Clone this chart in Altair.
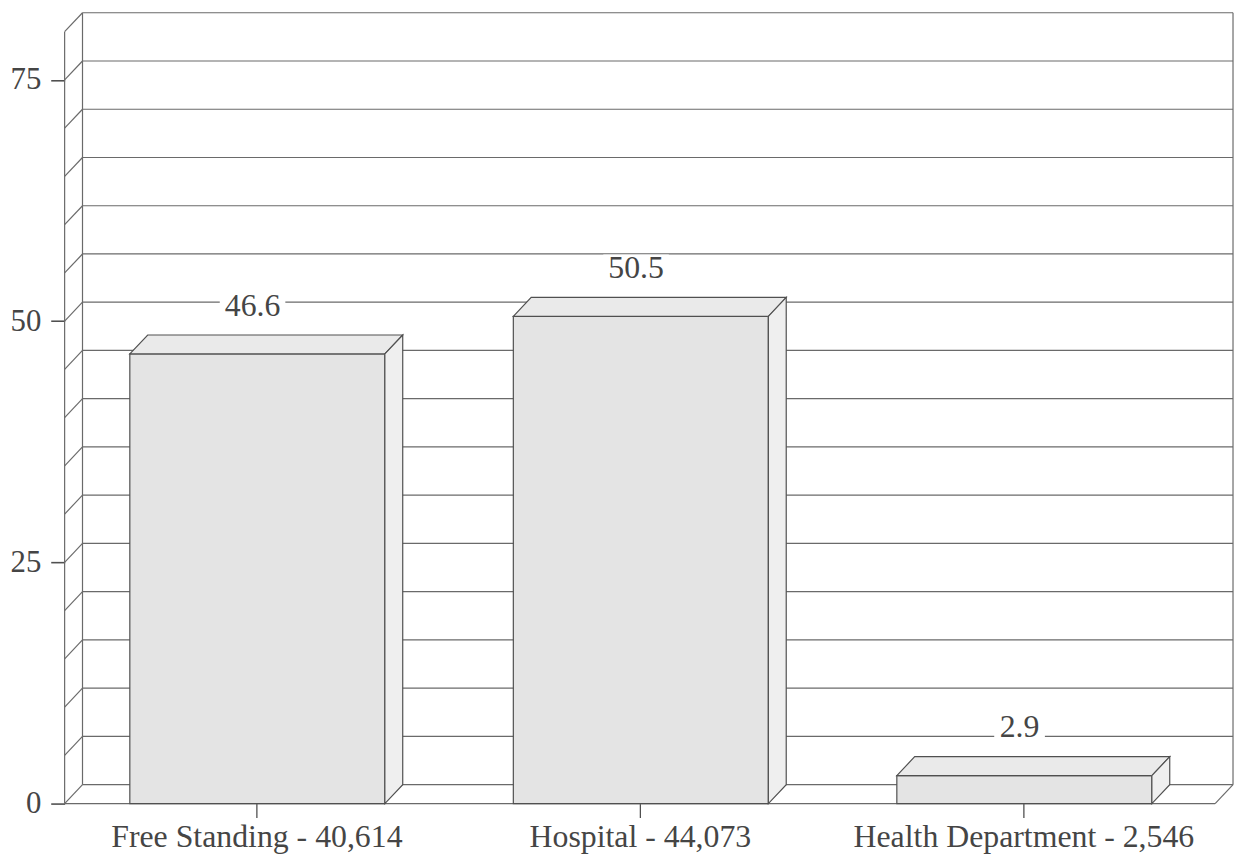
import json
import pandas as pd
import altair as alt

# ---- data ----
categories = ["Free Standing - 40,614", "Hospital - 44,073", "Health Department - 2,546"]
values = [46.6, 50.5, 2.9]
value_labels = ["46.6", "50.5", "2.9"]
grid_values = list(range(0, 85, 5))
y_tick_values = [0, 25, 50, 75]

# ---- geometry / style constants ----
Y_MAX = 80
N = len(categories)
DX = 0.0466      # 3D depth in x units
DY = 1.96        # 3D depth in y units
BAR_START = 0.17
BAR_WIDTH = 0.665
LABEL_SHIFT = 0.49
LABEL_RISE = 5.0
W, H = 1176, 796
PX_X = W / (N + DX)
PX_Y = H / (Y_MAX + DY)

FONT = "Liberation Serif"
LINE = "#6a6a6a"
EDGE = "#505050"
TEXT = "#454545"

# ---- frame lines (walls, floor, gridlines) ----
lines = []
for v in grid_values:
    lines.append(dict(x=DX, x2=N + DX, y=v + DY, y2=v + DY))   # back wall gridline
    lines.append(dict(x=0, x2=DX, y=v, y2=v + DY))              # left wall slant
lines.append(dict(x=0, x2=0, y=0, y2=Y_MAX))                   # left wall front edge
lines.append(dict(x=DX, x2=DX, y=DY, y2=Y_MAX + DY))           # left wall back edge
lines.append(dict(x=N + DX, x2=N + DX, y=DY, y2=Y_MAX + DY))   # right back edge
lines.append(dict(x=0, x2=N, y=0, y2=0))                       # floor front edge
lines.append(dict(x=N, x2=N + DX, y=0, y2=DY))                 # floor right edge
lines_df = pd.DataFrame(lines)

# ---- bars ----
front, top, side, labels, label_bg = [], [], [], [], []
for i, (c, v, lab) in enumerate(zip(categories, values, value_labels)):
    x0 = i + BAR_START
    x1 = x0 + BAR_WIDTH
    front.append(dict(bar=c, x=x0, x2=x1, y=0, y2=v))
    for xx, yy, yy2 in [(x0, v, v), (x0 + DX, v + DY, v), (x1, v + DY, v), (x1 + DX, v + DY, v + DY)]:
        top.append(dict(bar=c, x=xx, y=yy, y2=yy2))
    for xx, yy, yy2 in [(x1, v, 0), (x1 + DX, v + DY, DY)]:
        side.append(dict(bar=c, x=xx, y=yy, y2=yy2))
    lx = i + LABEL_SHIFT
    ly = v + LABEL_RISE
    labels.append(dict(x=lx, y=ly, label=lab))
    half = (len(lab) * 15 + 6) / 2 / PX_X
    label_bg.append(dict(x=lx - half, x2=lx + half, y=ly - 1.4, y2=ly + 1.4))

front_df = pd.DataFrame(front)
top_df = pd.DataFrame(top)
side_df = pd.DataFrame(side)
labels_df = pd.DataFrame(labels)
label_bg_df = pd.DataFrame(label_bg)

# ---- scales and axes ----
xs = alt.Scale(domain=[0, N + DX], nice=False, zero=False)
ys = alt.Scale(domain=[0, Y_MAX + DY], nice=False, zero=False)

x_axis = alt.Axis(
    values=[i + 0.5 for i in range(N)],
    labelExpr=f"{json.dumps(categories)}[floor(datum.value)]",
    domain=False, grid=False, title=None,
    tickSize=14, tickColor=EDGE, tickWidth=1.3,
    labelFont=FONT, labelFontSize=32, labelColor=TEXT, labelPadding=4,
    labelLimit=0, labelOverlap=False,
)
y_axis = alt.Axis(
    values=y_tick_values, format="d",
    domain=False, grid=False, title=None,
    tickSize=14, tickColor=EDGE, tickWidth=1.6,
    labelFont=FONT, labelFontSize=31, labelColor=TEXT, labelPadding=10,
)

X = alt.X("x:Q", scale=xs, axis=x_axis)
Y = alt.Y("y:Q", scale=ys, axis=y_axis, stack=None)

frame = alt.Chart(lines_df).mark_rule(color=LINE, strokeWidth=1.2).encode(
    x=X, x2="x2:Q", y=Y, y2="y2:Q"
)

front_layer = alt.Chart(front_df).mark_rect(
    fill="#e4e4e4", stroke=EDGE, strokeWidth=1.2
).encode(x=X, x2="x2:Q", y=Y, y2="y2:Q")

top_layer = alt.Chart(top_df).mark_area(
    fill="#eaeaea", stroke=EDGE, strokeWidth=1.2, interpolate="linear", opacity=1
).encode(x=X, y=Y, y2="y2:Q", detail="bar:N")

side_layer = alt.Chart(side_df).mark_area(
    fill="#efefef", stroke=EDGE, strokeWidth=1.2, interpolate="linear", opacity=1
).encode(x=X, y=Y, y2="y2:Q", detail="bar:N")

bg_layer = alt.Chart(label_bg_df).mark_rect(fill="white", strokeWidth=0).encode(
    x=X, x2="x2:Q", y=Y, y2="y2:Q"
)

text_layer = alt.Chart(labels_df).mark_text(
    font=FONT, fontSize=32, color=TEXT, align="center", baseline="middle"
).encode(x=X, y=Y, text="label:N")

chart = alt.layer(
    frame, front_layer, top_layer, side_layer, bg_layer, text_layer
).properties(
    width=W, height=H,
    autosize=alt.AutoSizeParams(type="none"),
    padding={"left": 57, "top": 2, "right": 2, "bottom": 52},
    background="white",
).configure_view(stroke=None)

chart.save("out.html", embed_options={"renderer": "svg", "actions": False})
